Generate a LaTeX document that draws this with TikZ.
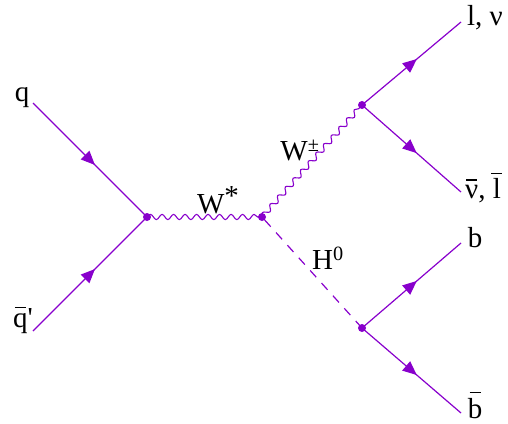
\documentclass[tikz,border=0pt]{standalone}
\usepackage{fontspec}
\setmainfont{Liberation Serif}
\usetikzlibrary{decorations.pathmorphing,decorations.markings,arrows.meta}
\definecolor{feyn}{RGB}{136,0,204}
\newcommand\obar[1]{\setbox0\hbox{#1}\leavevmode\rlap{\hbox to\wd0{\hss\raisebox{\dimexpr\ht0+5pt\relax}{\rule{11pt}{1.3pt}}\hss}}\box0}
\tikzset{
 fermion/.style={color=feyn, line width=1.2pt, postaction={decorate},
   decoration={markings, mark=at position 0.5 with {\arrow[xshift=7pt]{Triangle[length=14pt,width=12pt]}}}},
 boson/.style={color=feyn, line width=1.1pt, decorate,
   decoration={snake, amplitude=2.6pt, segment length=11.5pt}},
 scalar/.style={color=feyn, line width=1.2pt, dash pattern=on 9pt off 8pt, dash phase=-4pt},
 vtx/.style={circle, fill=feyn, inner sep=0pt, minimum size=8pt},
 lbl/.style={font=\fontsize{29}{33}\selectfont, inner sep=0pt, text=black},
}
\begin{document}
\begin{tikzpicture}[x=1pt,y=-1pt]
\useasboundingbox (0,0) rectangle (508,423);
\coordinate (v1) at (147,217);
\coordinate (v2) at (262,217);
\coordinate (v3) at (362,105);
\coordinate (v4) at (362,328);
\coordinate (qin) at (33,103);
\coordinate (qbin) at (33,331);
\coordinate (e1) at (461,22);
\coordinate (e2) at (461,192);
\coordinate (e3) at (461,243);
\coordinate (e4) at (461,413);
\draw[fermion] (qin) -- (v1);
\draw[fermion] (qbin) -- (v1);
\draw[boson] (v1) -- (v2);
\draw[boson] (v2) -- (v3);
\draw[scalar] (v2) -- (v4);
\draw[fermion] (v3) -- (e1);
\draw[fermion] (v3) -- (e2);
\draw[fermion] (v4) -- (e3);
\draw[fermion] (v4) -- (e4);
\node[vtx] (d1) at (v1) {};
\node[vtx] (d2) at (v2) {};
\node[vtx] (d3) at (v3) {};
\node[vtx] (d4) at (v4) {};
\node[lbl] (lq) at (22,98) {q};
\node[lbl] (lqb) at (23,320) {\obar{q}\textquotesingle};
\node[lbl] (lw) at (218,200) {W\raisebox{8pt}{*}};
\node[lbl] (lwpm) at (300,150) {W\textsuperscript{±}};
\node[lbl] (lh) at (328,258) {H\textsuperscript{0}};
\node[lbl] (ll) at (485,18) {l, ν};
\node[lbl] (lnb) at (483,188) {\obar{ν}, \obar{l}};
\node[lbl] (lb) at (475,238) {b};
\node[lbl] (lbb) at (475,405) {\obar{b}};
\end{tikzpicture}
\end{document}
